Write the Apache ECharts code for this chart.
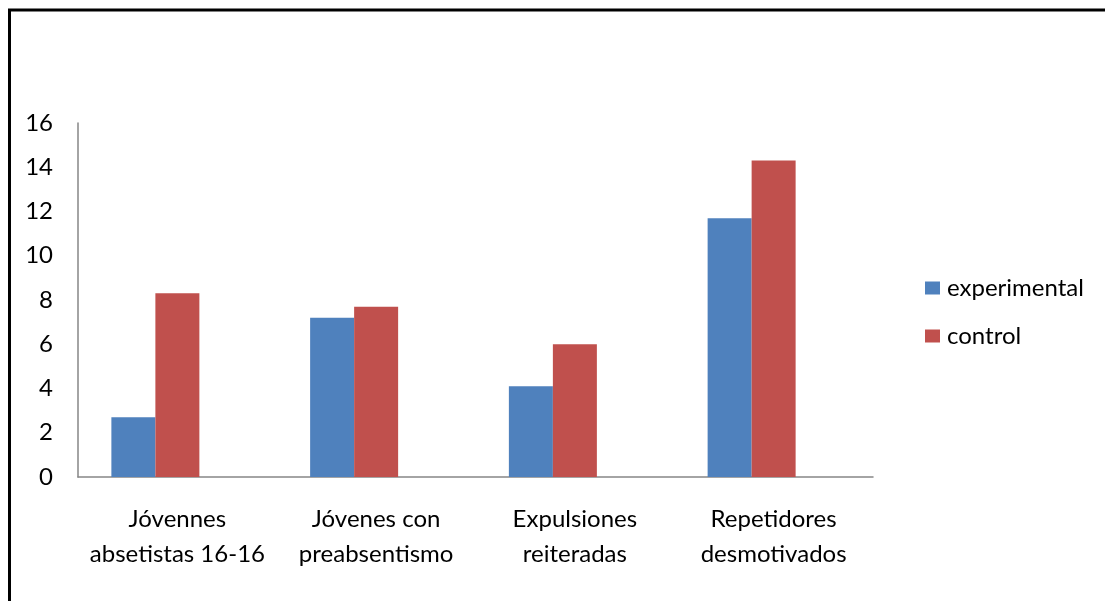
<!DOCTYPE html>
<html>
<head>
<meta charset="utf-8">
<script src="https://cdn.jsdelivr.net/npm/echarts@6/dist/echarts.min.js"></script>
<style>
html,body{margin:0;padding:0;background:#fff;}
#c{width:1105px;height:601px;}
</style>
</head>
<body>
<div id="c"></div>
<script>
const categories = [
  "Jóvennes\nabsetistas 16-16",
  "Jóvenes con\npreabsentismo",
  "Expulsiones\nreiteradas",
  "Repetidores\ndesmotivados"
];
const seriesNames = ["experimental", "control"];
const experimental = [2.7, 7.2, 4.1, 11.7];
const control = [8.3, 7.7, 6.0, 14.3];
// the original chart reserves a third (empty) bar slot in each group
const emptySlot = [null, null, null, null];
const yTicks = { min: 0, max: 16, interval: 2 };

const FONT = "Lato";
const FS = 24;
const chart = echarts.init(document.getElementById('c'), null, {renderer: 'canvas'});
chart.setOption({
  backgroundColor: '#ffffff',
  animation: false,
  textStyle: { fontFamily: FONT },
  graphic: [{
    type: 'polyline',
    shape: { points: [[9.5, 601], [9.5, 10], [1105, 10]] },
    style: { stroke: '#000', lineWidth: 3, fill: null }
  }],
  grid: { left: 78, right: 232, top: 123, height: 354 },
  legend: {
    orient: 'vertical',
    left: 920,
    top: 271,
    itemWidth: 15,
    itemHeight: 13,
    itemGap: 24,
    icon: 'rect',
    data: seriesNames,
    textStyle: { fontFamily: FONT, fontSize: FS, color: '#000', lineHeight: 24, padding: [0, 0, 0, 2] }
  },
  xAxis: {
    type: 'category',
    data: categories,
    axisLine: { lineStyle: { color: '#868686', width: 1.5 } },
    axisTick: { show: false },
    axisLabel: { fontFamily: FONT, fontSize: FS, color: '#000', lineHeight: 35, margin: 25, interval: 0 },
    splitLine: { show: false }
  },
  yAxis: {
    type: 'value',
    min: yTicks.min, max: yTicks.max, interval: yTicks.interval,
    axisLine: { show: true, lineStyle: { color: '#868686', width: 1.5 } },
    axisTick: { show: false },
    splitLine: { show: false },
    axisLabel: { fontFamily: FONT, fontSize: FS, color: '#000', margin: 25 }
  },
  series: [
    { name: seriesNames[0], type: 'bar', data: experimental, barWidth: 44, barGap: 0,
      itemStyle: { color: '#4F81BD' } },
    { name: seriesNames[1], type: 'bar', data: control, barWidth: 44, barGap: 0,
      itemStyle: { color: '#C0504D' } },
    { name: 'slot3', type: 'bar', data: emptySlot, barWidth: 44, barGap: 0,
      itemStyle: { color: '#9BBB59' } }
  ]
});
</script>
</body>
</html>
